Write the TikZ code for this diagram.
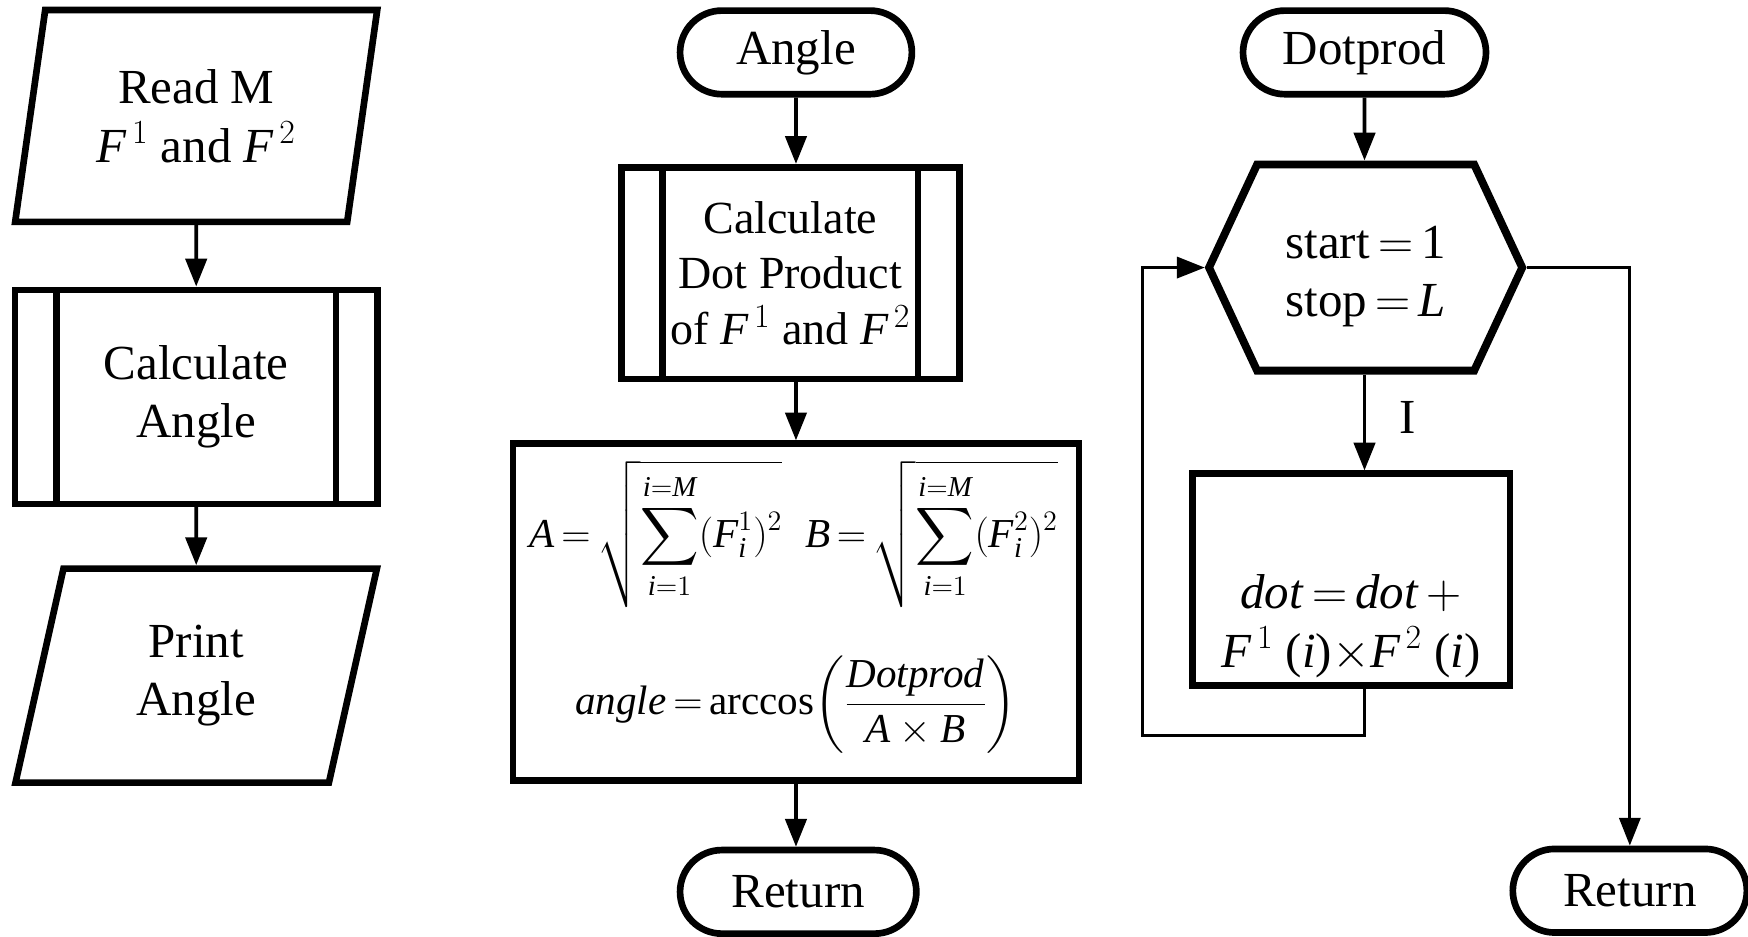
\documentclass[tikz,border=0pt]{standalone}
\usepackage{amsmath}
\usepackage{fontspec}
\setmainfont{Liberation Serif}
\usetikzlibrary{shapes.geometric,shapes.symbols,shapes.misc,arrows.meta}
\newcommand{\itx}[1]{\textit{#1}}

\begin{document}
\begin{tikzpicture}[x=0.02cm,y=-0.02cm,
  every node/.style={font=\fontsize{25}{30}\selectfont, align=center, inner sep=0pt},
  box/.style={draw, line width=3.4pt},
  io/.style={box, trapezium, trapezium left angle=78, trapezium right angle=102,
    trapezium stretches=true},
  proc/.style={box, rectangle},
  subproc/.style={box, rectangle, path picture={
      \draw[line width=3.4pt]
        ([xshift=0.74cm]path picture bounding box.north west) --
        ([xshift=0.74cm]path picture bounding box.south west)
        ([xshift=-0.74cm]path picture bounding box.north east) --
        ([xshift=-0.74cm]path picture bounding box.south east);}},
  term/.style={box, rounded rectangle, minimum height=1.5cm},
  loopbox/.style={box, line width=4pt, signal, signal to=west and east,
    signal pointer angle=130},
  arr/.style={line width=2pt, -{Triangle[length=0.5cm,width=0.38cm]}},
  flowarr/.style={line width=1.6pt, -{Triangle[length=0.5cm,width=0.38cm]}},
  mathtext/.style={font=\fontsize{21}{25}\selectfont}
]
\useasboundingbox (0,0) rectangle (1568,840);

% main program
\node[io, minimum width=6.5cm, minimum height=3.8cm] (read) at (176,104)
  {Read M\\$\itx{F}^{\,1}$ and $\itx{F}^{\,2}$};
\node[subproc, minimum width=6.5cm, minimum height=3.84cm] (calc) at (176,356)
  {Calculate\\Angle};
\node[io, minimum width=6.5cm, minimum height=3.84cm] (print) at (176,606)
  {Print\\Angle};
\draw[arr] (read) -- (calc);
\draw[arr] (calc) -- (print);

% subroutine Angle
\node[term, minimum width=4.16cm] (angle) at (714,47) {Angle};
\node[subproc, minimum width=6.06cm, minimum height=3.8cm,
  font=\fontsize{23.5}{28.5}\selectfont] (dotcall) at (709,245)
  {Calculate\\Dot Product\\of $\itx{F}^{\,1}$ and $\itx{F}^{\,2}$};
\node[proc, minimum width=10.16cm, minimum height=6.04cm] (formula) at (714,549) {};
\node[mathtext] (lengths) at (712,479)
  {$\itx{A}\,{=}\,\sqrt{\displaystyle\sum_{\itx{i}=1}^{\itx{i}=\itx{M}}(\itx{F}_{\itx{i}}^{1})^{2}}$\hspace{0.55em}%
   $\itx{B}\,{=}\,\sqrt{\displaystyle\sum_{\itx{i}=1}^{\itx{i}=\itx{M}}(\itx{F}_{\itx{i}}^{2})^{2}}$};
\node[mathtext] (anglecalc) at (714,632)
  {$\itx{angle}\,{=}\,\mathrm{arccos}{\left(\dfrac{\itx{Dotprod}}{\itx{A}\times\itx{B}}\right)}$};
\node[term, minimum width=4.24cm] (ret1) at (716,800) {Return};
\draw[arr] (angle) -- (dotcall.north -| angle);
\draw[arr] (dotcall.south -| angle) -- (formula.north -| angle);
\draw[arr] (formula.south -| angle) -- (ret1.north -| angle);

% subroutine Dotprod
\node[term, minimum width=4.36cm] (dotprod) at (1224,47) {Dotprod};
\node[loopbox, minimum width=5.62cm, minimum height=3.7cm] (hex) at (1225,240) {};
\node (range) at (1225,248) {start$\,=\,$1\\stop$\,=\,$\itx{L}};
\node[proc, minimum width=5.7cm, minimum height=3.8cm] (body) at (1212,520) {};
\node (sum) at (1212,562)
  {\itx{dot}$\,=\,$\itx{dot}$\,+$\\$\itx{F}^{\,1}$ (\itx{i})$\times\itx{F}^{\,2}$ (\itx{i})};
\node[term, minimum width=4.2cm] (ret2) at (1462,799) {Return};
\coordinate (back) at (1025,660);
\draw[arr] (dotprod) -- (hex.north -| dotprod);
\draw[arr] (hex.south -| dotprod) -- node[right=0.6cm, pos=0.45] (iter) {I} (body.north -| dotprod);
\draw[flowarr] (body.south -| dotprod) |- (back) |- (hex.west);
\draw[flowarr] (hex.east) -| (ret2.north);
\end{tikzpicture}
\end{document}
